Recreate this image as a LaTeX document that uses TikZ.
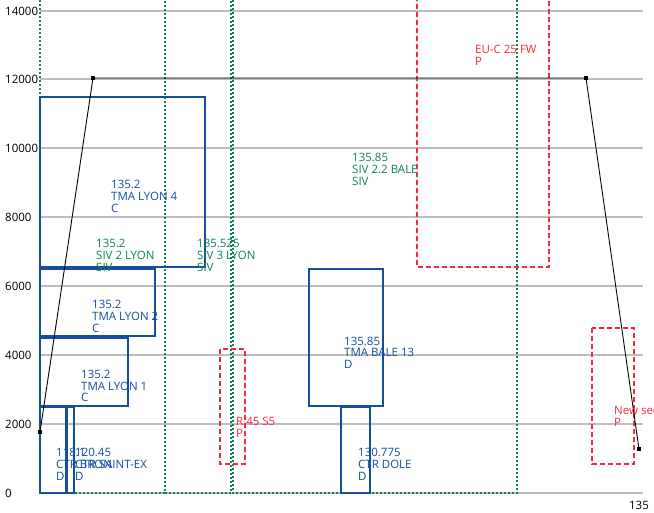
\documentclass[tikz,border=0pt]{standalone}
\usepackage{fontspec}
\setmainfont{Open Sans}
\definecolor{tmablue}{RGB}{22,78,158}
\definecolor{sivgreen}{RGB}{16,130,84}
\definecolor{pred}{RGB}{250,40,60}
\definecolor{gridgray}{RGB}{190,190,190}
\tikzset{
  gridline/.style={draw=gridgray, line width=1.4pt},
  tmabox/.style={draw=tmablue, line width=1.8pt},
  sivbox/.style={draw=sivgreen, line width=2.4pt, dash pattern=on 2pt off 2pt},
  pbox/.style={draw=pred, line width=2pt, dash pattern=on 5pt off 3pt},
  lbl/.style={inner sep=0pt, anchor=base west, align=left,
    font=\fontsize{11.5}{12}\selectfont},
  tmalbl/.style={lbl, text=tmablue},
  sivlbl/.style={lbl, text=sivgreen},
  plbl/.style={lbl, text=pred},
  axlbl/.style={inner sep=0pt, anchor=west, font=\fontsize{11.5}{12}\selectfont},
  pathline/.style={draw=black, line width=0.9pt},
  marker/.style={fill=black, inner sep=0pt, minimum size=4.5pt, draw=none}
}
\begin{document}
\begin{tikzpicture}[x=1pt,y=-1pt]
\useasboundingbox (0,0) rectangle (654,513);
\clip (0,0) rectangle (654,513);
\fill[white] (0,0) rectangle (654,513);
% grid lines and axis labels
\foreach \v/\yy in {14000/11,12000/79,10000/148,8000/217,6000/286,4000/355,2000/424,0/493}{
  \draw[gridline] (40,\yy) -- (643,\yy);
  \node[axlbl] (ax\v) at (5,\yy) {\v};
}
\node[axlbl, anchor=center] (axx) at (639,505) {135};
% SIV areas
\draw[sivbox] (40,-20) -- (40,493) -- (165,493) -- (165,-20);
\draw[sivbox] (165,493) -- (231,493) -- (231,-20);
\draw[sivbox] (233,-20) -- (233,493) -- (517,493) -- (517,-20);
% TMA / CTR boxes
\draw[tmabox] (40,97) rectangle (205,267);
\draw[tmabox] (40,269) rectangle (155,336);
\draw[tmabox] (40,338) rectangle (128,406);
\draw[tmabox] (40,407) rectangle (66,493);
\draw[tmabox] (67,407) rectangle (74,493);
\draw[tmabox] (309,269) rectangle (383,406);
\draw[tmabox] (341,407) rectangle (370,493);
% P areas
\draw[pbox] (417,-20) -- (417,267) -- (549,267) -- (549,-20);
\draw[pbox] (220,349) rectangle (245,464);
\draw[pbox] (592,328) rectangle (634,464);
% path
\node[marker] (p1) at (40,432) {};
\node[marker] (p2) at (93,78) {};
\node[marker] (p3) at (586,78) {};
\node[marker] (p4) at (639,449) {};
\draw[pathline] (p1.center) -- (p2.center) -- (p3.center) -- (p4.center);
% labels (anchor = baseline of the last line)
\node[tmalbl] (l4) at (111,213) {135.2\\TMA LYON 4\\C};
\node[tmalbl] (l2) at (92,333) {135.2\\TMA LYON 2\\C};
\node[tmalbl] (l1) at (81,402) {135.2\\TMA LYON 1\\C};
\node[tmalbl] (lbron) at (56,480) {118.1\\CTR BRON\\D};
\node[tmalbl] (lsx) at (75,480) {120.45\\CTR SAINT-EX\\D};
\node[tmalbl] (lb13) at (344,369) {135.85\\TMA BALE 13\\D};
\node[tmalbl] (ldole) at (358,480) {130.775\\CTR DOLE\\D};
\node[sivlbl] (s2) at (96,272) {135.2\\SIV 2 LYON\\SIV};
\node[sivlbl] (s3) at (197,272) {135.525\\SIV 3 LYON\\SIV};
\node[sivlbl] (s22) at (352,186) {135.85\\SIV 2.2 BALE\\SIV};
\node[plbl] (peu) at (475,66) {EU-C 25 FW\\P};
\node[plbl] (pr45) at (236,437) {R 45 S5\\P};
\node[plbl] (pnew) at (614,426) {New sector\\P};
\end{tikzpicture}
\end{document}
